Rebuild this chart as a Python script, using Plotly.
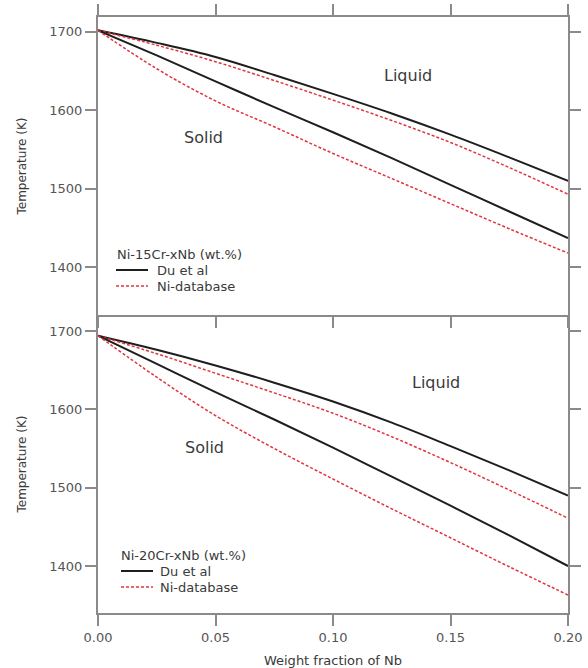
import plotly.graph_objects as go
from plotly.subplots import make_subplots

# Weight fraction of Nb
nb_frac = [0, 0.025, 0.05, 0.075, 0.1, 0.125, 0.15, 0.175, 0.2]

# Ni-15Cr-xNb: liquidus / solidus temperatures (K)
cr15_du_liq = [1702, 1686, 1668, 1645, 1621, 1596, 1569, 1540, 1510]
cr15_db_liq = [1702, 1683, 1662, 1638, 1613, 1587, 1559, 1527, 1493]
cr15_du_sol = [1702, 1670, 1637, 1604, 1572, 1539, 1505, 1471, 1437]
cr15_db_sol = [1702, 1653, 1612, 1579, 1545, 1513, 1481, 1449, 1418]

# Ni-20Cr-xNb: liquidus / solidus temperatures (K)
cr20_du_liq = [1694, 1676, 1656, 1634, 1610, 1583, 1553, 1522, 1490]
cr20_db_liq = [1694, 1671, 1646, 1621, 1595, 1565, 1532, 1497, 1461]
cr20_du_sol = [1694, 1658, 1622, 1587, 1551, 1514, 1477, 1439, 1400]
cr20_db_sol = [1694, 1641, 1592, 1550, 1511, 1473, 1436, 1399, 1363]

x_ticks = [0.0, 0.05, 0.10, 0.15, 0.20]
x_tick_text = ["0.00", "0.05", "0.10", "0.15", "0.20"]
y_ticks = [1400, 1500, 1600, 1700]

series_names = ["Du et al", "Ni-database"]
alloy_titles = ["Ni-15Cr-xNb (wt.%)", "Ni-20Cr-xNb (wt.%)"]

FONT = "DejaVu Sans"
BLACK = "#1e1e1e"
RED = "#e2343e"
AXIS = "#8a8a8a"
TEXT = "#3a3a3a"

W, H = 588, 668
ML, MR, MT, MB = 98, 20, 17, 55
PW, PH = W - ML - MR, H - MT - MB

fig = make_subplots(rows=2, cols=1, shared_xaxes=True, vertical_spacing=0)

line_styles = [
    dict(color=BLACK, width=2, shape="spline"),
    dict(color=RED, width=1.5, dash="3px,2px", shape="spline"),
]

panels = [
    (1, cr15_du_liq, cr15_db_liq, cr15_du_sol, cr15_db_sol),
    (2, cr20_du_liq, cr20_db_liq, cr20_du_sol, cr20_db_sol),
]

for row, du_liq, db_liq, du_sol, db_sol in panels:
    for du, db in [(du_liq, db_liq), (du_sol, db_sol)]:
        fig.add_trace(go.Scatter(x=nb_frac, y=du, mode="lines", line=line_styles[0],
                                 name=series_names[0], showlegend=False), row=row, col=1)
        fig.add_trace(go.Scatter(x=nb_frac, y=db, mode="lines", line=line_styles[1],
                                 name=series_names[1], showlegend=False), row=row, col=1)

axis_common = dict(
    showline=True, linecolor=AXIS, linewidth=2,
    ticks="outside", ticklen=11, tickwidth=1.5, tickcolor=AXIS,
    showgrid=False, zeroline=False, automargin=False,
    tickfont=dict(family=FONT, size=13, color="#555555"),
)

fig.update_xaxes(range=[0, 0.2], tickvals=x_ticks, ticktext=x_tick_text, **axis_common)
# upper panel frames the top and the shared boundary; lower panel draws only its bottom edge
fig.update_xaxes(showticklabels=False, mirror="ticks", row=1, col=1)
fig.update_xaxes(
    mirror=False,
    title=dict(text="Weight fraction of Nb", font=dict(family=FONT, size=13, color=TEXT), standoff=12),
    row=2, col=1,
)
fig.update_yaxes(tickvals=y_ticks, mirror="ticks", **axis_common)
fig.update_yaxes(range=[1339, 1719], row=1, col=1)
fig.update_yaxes(range=[1340, 1720.4], row=2, col=1)
fig.update_yaxes(title=dict(text="Temperature (K)", font=dict(family=FONT, size=12, color=TEXT), standoff=20))

# phase region labels
labels = [
    ("x", "y", 0.132, 1645, "Liquid"),
    ("x", "y", 0.045, 1565, "Solid"),
    ("x2", "y2", 0.144, 1634, "Liquid"),
    ("x2", "y2", 0.0455, 1551, "Solid"),
]
for xr, yr, xv, yv, txt in labels:
    fig.add_annotation(x=xv, y=yv, xref=xr, yref=yr, text=txt, showarrow=False,
                       font=dict(family=FONT, size=16, color=TEXT))


def px_x(px):
    return (px - ML) / PW


def px_y(py):
    return (H - MB - py) / PH


# compact per-panel keys: (title left, title y, sample start, sample end, text left, row spacing)
keys = [
    (115, 254, 116, 148, 155, 16),
    (119, 555, 121, 153, 158, 16),
]
for title, (tx, ty, s0, s1, lx, dy) in zip(alloy_titles, keys):
    fig.add_annotation(x=px_x(tx), y=px_y(ty), xref="paper", yref="paper", text=title,
                       showarrow=False, xanchor="left", yanchor="middle",
                       font=dict(family=FONT, size=13, color=TEXT))
    for k, (name, st) in enumerate(zip(series_names, line_styles)):
        yy = px_y(ty + dy * (k + 1))
        fig.add_shape(type="line", xref="paper", yref="paper",
                      x0=px_x(s0), x1=px_x(s1), y0=yy, y1=yy,
                      line=dict(color=st["color"], width=st["width"], dash=st.get("dash", "solid")))
        fig.add_annotation(x=px_x(lx), y=yy, xref="paper", yref="paper", text=name,
                           showarrow=False, xanchor="left", yanchor="middle",
                           font=dict(family=FONT, size=13, color=TEXT))

fig.update_layout(
    width=W, height=H,
    margin=dict(l=ML, r=MR, t=MT, b=MB),
    paper_bgcolor="white", plot_bgcolor="white",
    showlegend=False,
)

fig.write_html("out.html")
